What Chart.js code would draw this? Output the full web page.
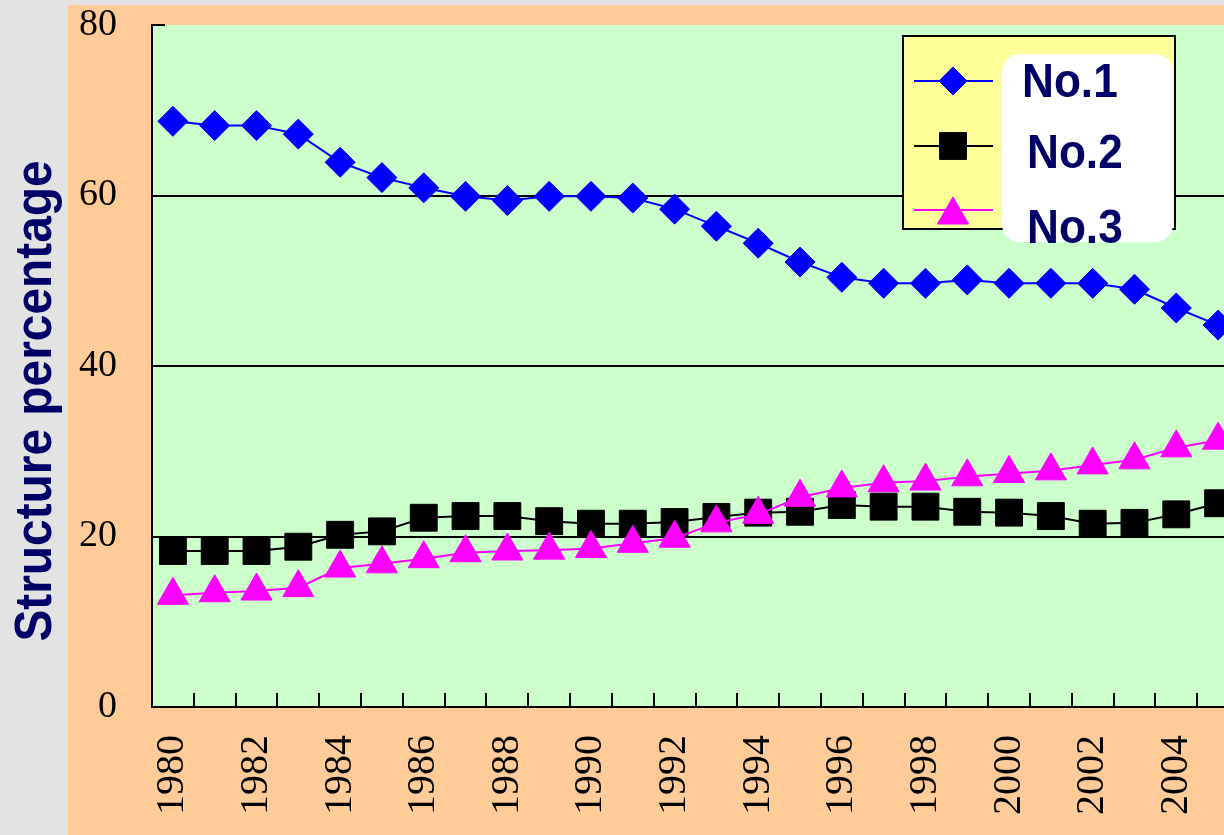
<!DOCTYPE html>
<html>
<head>
<meta charset="utf-8">
<script src="https://cdn.jsdelivr.net/npm/chart.js@4/dist/chart.umd.min.js"></script>
<style>
  html, body { margin: 0; padding: 0; overflow: hidden; background: #e3e3e3; }
  #wrap { width: 1260px; height: 835px; }
</style>
</head>
<body>
<div id="wrap"><canvas id="chart"></canvas></div>
<script>
// categories
const years = ['1980', '1981', '1982', '1983', '1984', '1985', '1986', '1987', '1988', '1989',
  '1990', '1991', '1992', '1993', '1994', '1995', '1996', '1997', '1998', '1999',
  '2000', '2001', '2002', '2003', '2004', '2005'];

// series values (structure percentage)
const no1 = [68.7, 68.2, 68.2, 67.2, 63.9, 62.1, 60.9, 59.9, 59.4, 59.9,
  59.9, 59.7, 58.4, 56.4, 54.4, 52.2, 50.4, 49.7, 49.7, 50.1,
  49.7, 49.7, 49.7, 49.0, 46.8, 44.8];
const no2 = [18.3, 18.3, 18.3, 18.8, 20.2, 20.6, 22.2, 22.4, 22.4, 21.8,
  21.5, 21.5, 21.7, 22.3, 22.8, 22.9, 23.7, 23.5, 23.5, 22.9,
  22.8, 22.4, 21.5, 21.6, 22.6, 23.9];
const no3 = [13.1, 13.4, 13.6, 14.0, 16.3, 16.8, 17.4, 18.1, 18.3, 18.4,
  18.6, 19.2, 19.8, 21.6, 22.6, 24.6, 25.7, 26.3, 26.5, 27.0,
  27.4, 27.7, 28.4, 29.0, 30.4, 31.3];

const seriesNames = ['No.1', 'No.2', 'No.3'];
const yTicks = [0, 20, 40, 60, 80];
const yTitle = 'Structure percentage';

const NAVY = '#000066';
const BOLD_SANS = '"Liberation Sans", Arial, sans-serif';

// page backgrounds: grey strip, orange chart panel, green plot area
const backdrop = {
  id: 'backdrop',
  beforeDraw(chart) {
    const { ctx, chartArea: a, width, height } = chart;
    ctx.save();
    ctx.fillStyle = '#e3e3e3';
    ctx.fillRect(0, 0, width, height);
    ctx.fillStyle = '#ffcc99';
    ctx.fillRect(68, 5, width - 68, height - 5);
    ctx.fillStyle = '#ccffcc';
    ctx.fillRect(a.left, a.top, a.right - a.left, a.bottom - a.top);
    ctx.restore();
  }
};

// excel style tick marks that point into the plot
const innerTicks = {
  id: 'innerTicks',
  beforeDatasetsDraw(chart) {
    const { ctx, chartArea: a } = chart;
    const xs = chart.scales.x;
    const ys = chart.scales.y;
    ctx.save();
    ctx.strokeStyle = '#000';
    ctx.lineWidth = 2;
    ctx.beginPath();
    for (let i = 1; i <= years.length; i++) {
      const px = Math.round((xs.getPixelForValue(i - 1) + xs.getPixelForValue(i)) / 2);
      ctx.moveTo(px, a.bottom);
      ctx.lineTo(px, a.bottom - 14);
    }
    yTicks.forEach(v => {
      const py = Math.round(ys.getPixelForValue(v));
      ctx.moveTo(a.left, py);
      ctx.lineTo(a.left + 13, py);
    });
    ctx.stroke();
    ctx.restore();
  }
};

// the axis title sits out in the grey strip, a bit below the plot centre
const sideTitle = {
  id: 'sideTitle',
  afterDraw(chart) {
    const { ctx } = chart;
    ctx.save();
    ctx.translate(51, 401);
    ctx.rotate(-Math.PI / 2);
    ctx.scale(0.92, 1);
    ctx.fillStyle = NAVY;
    ctx.font = 'bold 52px ' + BOLD_SANS;
    ctx.textAlign = 'center';
    ctx.textBaseline = 'alphabetic';
    ctx.fillText(yTitle, 0, 0);
    ctx.restore();
  }
};

// legend box in the upper right of the plot
const legendBox = {
  id: 'legendBox',
  afterDraw(chart) {
    const { ctx } = chart;
    ctx.save();
    ctx.fillStyle = '#ffff99';
    ctx.fillRect(903, 36, 272, 193);
    ctx.strokeStyle = '#000';
    ctx.lineWidth = 2;
    ctx.strokeRect(903, 36, 272, 193);

    const rows = [81, 146, 210];
    const sizes = [14, 19, 18];
    chart.data.datasets.forEach((ds, i) => {
      const y = rows[i];
      ctx.strokeStyle = ds.borderColor;
      ctx.lineWidth = 2;
      ctx.beginPath();
      ctx.moveTo(914, y);
      ctx.lineTo(993, y);
      ctx.stroke();
      ctx.fillStyle = ds.pointBackgroundColor;
      ctx.strokeStyle = ds.borderColor;
      ctx.lineWidth = 1;
      Chart.helpers.drawPoint(ctx, { pointStyle: ds.pointStyle, radius: sizes[i], rotation: 0, borderWidth: 1 }, 953, y + (ds.pointStyle === 'triangle' ? 5 : 0));
    });

    // white patch behind the labels
    ctx.fillStyle = '#ffffff';
    ctx.beginPath();
    ctx.roundRect(1002, 54, 171, 188, 18);
    ctx.fill();

    ctx.fillStyle = NAVY;
    ctx.font = 'bold 48px ' + BOLD_SANS;
    ctx.textBaseline = 'alphabetic';
    ctx.textAlign = 'left';
    const labelPos = [[1022, 97], [1027, 168], [1027, 243]];
    seriesNames.forEach((n, i) => {
      ctx.save();
      ctx.translate(labelPos[i][0], labelPos[i][1]);
      ctx.scale(0.92, 1);
      ctx.fillText(n, 0, 0);
      ctx.restore();
    });
    ctx.restore();
  }
};

const serifFamily = '"Liberation Serif", "Times New Roman", serif';

const noPad = s => {
  s.paddingTop = 0;
  s.paddingBottom = 0;
  s.paddingLeft = 0;
  s.paddingRight = 0;
};

new Chart(document.getElementById('chart'), {
  type: 'line',
  data: {
    labels: years,
    datasets: [
      {
        label: seriesNames[0], data: no1,
        borderColor: '#0000ff', backgroundColor: '#0000ff', pointBackgroundColor: '#0000ff',
        borderWidth: 2, pointStyle: 'rectRot', pointRadius: 15, pointBorderWidth: 1,
        tension: 0, order: 0
      },
      {
        label: seriesNames[1], data: no2,
        borderColor: '#000000', backgroundColor: '#000000', pointBackgroundColor: '#000000',
        borderWidth: 2, pointStyle: 'rect', pointRadius: 19, pointBorderWidth: 1,
        tension: 0, order: 2
      },
      {
        label: seriesNames[2], data: no3,
        borderColor: '#ff00ff', backgroundColor: '#ff00ff', pointBackgroundColor: '#ff00ff',
        borderWidth: 2, pointStyle: 'triangle', pointRadius: 18, pointBorderWidth: 1,
        tension: 0, order: 1
      }
    ]
  },
  options: {
    responsive: true,
    maintainAspectRatio: false,
    animation: false,
    layout: { padding: { top: 25, right: 21, left: 0, bottom: 0 } },
    plugins: {
      legend: { display: false },
      tooltip: { enabled: false }
    },
    scales: {
      x: {
        type: 'category',
        offset: true,
        grid: { display: false, drawTicks: false },
        border: { display: true, color: '#000', width: 2 },
        ticks: {
          autoSkip: false,
          minRotation: 90,
          maxRotation: 90,
          padding: 28,
          color: '#000',
          font: { family: serifFamily, size: 40 },
          callback: (v, i) => (i % 2 === 0 ? years[i] : '')
        },
        afterFit: s => { s.height = 128; noPad(s); }
      },
      y: {
        min: 0,
        max: 80,
        afterBuildTicks: s => { s.ticks = yTicks.map(v => ({ value: v })); },
        grid: {
          drawTicks: false,
          lineWidth: 2,
          color: c => (c.tick.value === 0 || c.tick.value === 80 ? 'rgba(0,0,0,0)' : '#000')
        },
        border: { display: true, color: '#000', width: 2 },
        ticks: { padding: 35, color: '#000', font: { family: serifFamily, size: 38 } },
        afterFit: s => { s.width = 152; noPad(s); }
      }
    }
  },
  plugins: [backdrop, innerTicks, sideTitle, legendBox]
});
</script>
</body>
</html>
